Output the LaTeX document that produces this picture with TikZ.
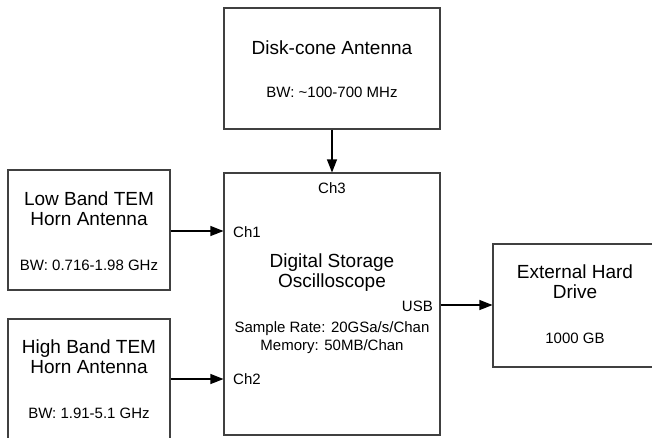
\documentclass[tikz,border=0pt]{standalone}
\usepackage{fontspec}
\setmainfont{Liberation Sans}
\usetikzlibrary{arrows.meta}
\begin{document}
\begin{tikzpicture}[x=1pt,y=-1pt,
  box/.style={draw=black!75,line width=1.1pt,rectangle,inner sep=0pt},
  big/.style={font=\fontsize{19}{20}\selectfont,align=center,inner sep=0pt},
  small/.style={font=\fontsize{15}{18}\selectfont,align=center,inner sep=0pt},
  conn/.style={draw=black,line width=1.1pt,-{Triangle[length=13pt,width=10pt]}}]
\useasboundingbox (0,0) rectangle (652,437);
\clip (0,0) rectangle (652,437);
% boxes
\node[box,minimum width=216pt,minimum height=121pt] (disk) at (332,68.5) {};
\node[box,minimum width=216pt,minimum height=262pt] (osc) at (332,304) {};
\node[box,minimum width=162pt,minimum height=120pt] (low) at (89,230) {};
\node[box,minimum width=162pt,minimum height=122pt] (high) at (89,380) {};
\node[box,minimum width=164pt,minimum height=123pt] (ext) at (575,305.5) {};
% texts
\node[big] (diskt) at (332,48) {Disk-cone Antenna};
\node[small] (diskbw) at (332,92) {BW: \textasciitilde100-700 MHz};
\node[big] (lowt) at (89,209) {Low Band TEM\\Horn Antenna};
\node[small] (lowbw) at (89,265) {BW: 0.716-1.98 GHz};
\node[big] (hight) at (89,357) {High Band TEM\\Horn Antenna};
\node[small] (highbw) at (89,413) {BW: 1.91-5.1 GHz};
\node[big] (osct) at (332,273) {Digital Storage\\Oscilloscope};
\node[small] (oscs) at (332,338) {Sample Rate: 20GSa/s/Chan\\Memory: 50MB/Chan};
\node[small] (ch3) at (332,188) {Ch3};
\node[small,anchor=west] (ch1) at (233,232) {Ch1};
\node[small,anchor=west] (ch2) at (233,379) {Ch2};
\node[small,anchor=east] (usb) at (433,306) {USB};
\node[big] (extt) at (575,282) {External Hard\\Drive};
\node[small] (extc) at (575,338) {1000 GB};
% connectors
\draw[conn] (disk.south) -- (osc.north);
\draw[conn] (low.east |- 0,231) -- (osc.west |- 0,231);
\draw[conn] (high.east |- 0,379) -- (osc.west |- 0,379);
\draw[conn] (osc.east |- 0,305) -- (ext.west |- 0,305);
\end{tikzpicture}
\end{document}
